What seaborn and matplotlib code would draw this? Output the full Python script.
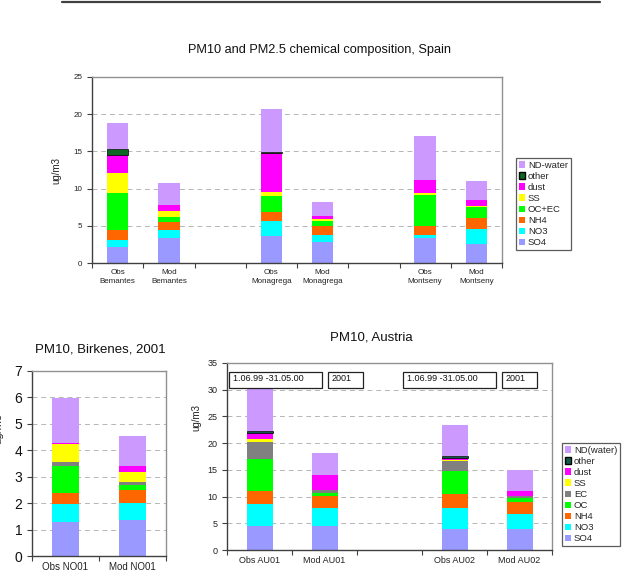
import numpy as np
import pandas as pd
import matplotlib
matplotlib.use("Agg")
import matplotlib.pyplot as plt
import seaborn as sns
from matplotlib.patches import Patch, Rectangle
from matplotlib.lines import Line2D

sns.set_style("white")
plt.rcParams['font.family'] = ['Liberation Sans', 'DejaVu Sans']

# ---------------- data ----------------
spain_cats = ["Obs\nBemantes", "Mod\nBemantes", "Obs\nMonagrega", "Mod\nMonagrega",
              "Obs\nMontseny", "Mod\nMontseny"]
spain_order = ["Obs\nBemantes", "Mod\nBemantes", "gap1", "Obs\nMonagrega", "Mod\nMonagrega",
               "gap2", "Obs\nMontseny", "Mod\nMontseny"]
spain_comps = ["SO4", "NO3", "NH4", "OC+EC", "SS", "dust", "other", "ND-water"]
spain_SO4 = [2.2, 3.4, 3.6, 2.8, 3.35, 2.55]
spain_NO3 = [0.9, 1.0, 2.1, 1.0, 0.45, 2.0]
spain_NH4 = [1.3, 1.1, 1.2, 1.2, 1.15, 1.45]
spain_OCEC = [5.0, 0.7, 2.05, 0.6, 4.25, 1.55]
spain_SS = [2.65, 0.8, 0.65, 0.25, 0.25, 0.15]
spain_dust = [2.5, 0.75, 5.15, 0.45, 1.65, 0.75]
spain_other = [0.8, 0.0, 0.12, 0.0, 0.0, 0.0]
spain_ND = [3.5, 3.05, 5.83, 1.95, 6.0, 2.55]

bir_cats = ["Obs NO01", "Mod NO01"]
bir_comps = ["SO4", "NO3", "NH4", "OC", "EC", "SS", "dust", "other", "ND(water)"]
bir_SO4 = [1.28, 1.35]
bir_NO3 = [0.70, 0.66]
bir_NH4 = [0.40, 0.49]
bir_OC = [1.03, 0.20]
bir_EC = [0.14, 0.10]
bir_SS = [0.69, 0.39]
bir_dust = [0.05, 0.22]
bir_other = [0.0, 0.0]
bir_ND = [1.68, 1.14]

aus_cats = ["Obs AU01", "Mod AU01", "Obs AU02", "Mod AU02"]
aus_order = ["Obs AU01", "Mod AU01", "gap", "Obs AU02", "Mod AU02"]
aus_comps = ["SO4", "NO3", "NH4", "OC", "EC", "SS", "dust", "other", "ND(water)"]
aus_SO4 = [4.5, 4.4, 3.9, 3.9]
aus_NO3 = [4.2, 3.5, 4.05, 2.9]
aus_NH4 = [2.4, 2.3, 2.55, 2.1]
aus_OC = [5.9, 0.55, 4.3, 0.8]
aus_EC = [3.25, 0.5, 1.8, 0.35]
aus_SS = [0.45, 0.05, 0.3, 0.05]
aus_dust = [1.2, 2.8, 0.4, 1.0]
aus_other = [0.4, 0.0, 0.25, 0.0]
aus_ND = [8.7, 4.0, 5.85, 3.8]
aus_periods = ["1.06.99 -31.05.00", "2001", "1.06.99 -31.05.00", "2001"]

# ---------------- styles ----------------
COL = {"SO4": "#9999FF", "NO3": "#00FFFF", "NH4": "#FF6600", "OC+EC": "#00FF00",
       "OC": "#00FF00", "EC": "#808080", "SS": "#FFFF00", "dust": "#FF00FF",
       "ND-water": "#CC99FF", "ND(water)": "#CC99FF"}
OTHER_SPAIN = "#0b6623"
OTHER_AUS = "#0f5a4a"


def stacked(ax, cats, order, comps, series, colors, width):
    positions = {c: order.index(c) for c in cats}
    bottoms = np.zeros(len(cats))
    for comp, vals in zip(comps, series):
        vals = np.asarray(vals, dtype=float)
        keep = vals > 0
        df = pd.DataFrame({"cat": [c for c, k in zip(cats, keep) if k],
                           "val": vals[keep]})
        bot_map = {positions[c]: b for c, b, k in zip(cats, bottoms, keep) if k}
        n0 = len(ax.patches)
        is_other = comp == "other"
        sns.barplot(data=df, x="cat", y="val", order=order, color=colors[comp],
                    saturation=1, width=width, errorbar=None, ax=ax,
                    edgecolor="black" if is_other else "none",
                    linewidth=0.5 if is_other else 0)
        for p in ax.patches[n0:]:
            xc = int(round(p.get_x() + p.get_width() / 2))
            p.set_y(bot_map[xc])
        bottoms = bottoms + vals


def frame(ax, dark="#404040", light="#909090"):
    for s in ["left", "bottom"]:
        ax.spines[s].set_color(dark)
        ax.spines[s].set_linewidth(1.0)
    for s in ["top", "right"]:
        ax.spines[s].set_color(light)
        ax.spines[s].set_linewidth(1.0)
    ax.yaxis.grid(True, color="#b5b5b5", linestyle=(0, (5, 4)), linewidth=0.7)
    ax.xaxis.grid(False)
    ax.set_axisbelow(True)


def xticks(ax, order, labels, fs):
    n = len(order)
    ax.set_xlim(-0.5, n - 0.5)
    ax.set_xticks(range(n))
    ax.set_xticklabels(labels, fontsize=fs, color="#222222")
    ax.set_xticks(np.arange(-0.5, n, 1.0), minor=True)
    ax.tick_params(axis="x", which="major", length=0, pad=4)
    ax.tick_params(axis="x", which="minor", length=3.5, width=0.8, color="#404040",
                   direction="out", bottom=True)
    ax.tick_params(axis="y", length=3.5, width=0.8, color="#404040", direction="out",
                   left=True)
    ax.set_xlabel("")


W, H = 633, 578
fig = plt.figure(figsize=(W / 100, H / 100), dpi=100)


def add_ax(l, r, t, b):
    return fig.add_axes([l / W, 1 - b / H, (r - l) / W, (b - t) / H])


def make_legend(handles, anchor):
    leg = fig.legend(handles=handles, loc="upper left", bbox_to_anchor=anchor,
                     fontsize=6.8, frameon=True, fancybox=False, borderpad=0.3,
                     labelspacing=0.22, handlelength=0.7, handleheight=0.7,
                     handletextpad=0.25, borderaxespad=0)
    leg.get_frame().set_edgecolor("#333333")
    leg.get_frame().set_linewidth(0.9)
    return leg


# top rule
fig.add_artist(Line2D([62 / W, 600 / W], [1 - 2 / H, 1 - 2 / H], color="#404040", lw=1.6))

# ---------------- Spain ----------------
ax1 = add_ax(92, 502, 77, 263)
frame(ax1)
stacked(ax1, spain_cats, spain_order, spain_comps,
        [spain_SO4, spain_NO3, spain_NH4, spain_OCEC, spain_SS, spain_dust,
         spain_other, spain_ND],
        {**COL, "other": OTHER_SPAIN}, 0.42)
xticks(ax1, spain_order, [c if not c.startswith("gap") else "" for c in spain_order], 5.8)
ax1.set_ylim(0, 25)
ax1.set_yticks(range(0, 26, 5))
ax1.tick_params(axis="y", labelsize=5.8, labelcolor="#222222")
for t in ax1.get_xticklabels():
    t.set_linespacing(1.5)
ax1.set_ylabel("ug/m3", fontsize=7, color="#222222")
ax1.yaxis.set_label_coords(-0.075, 0.5)
fig.text(320 / W, 1 - 50 / H, "PM10 and PM2.5 chemical composition, Spain",
         ha="center", va="center", fontsize=9.2, color="#111111")

h_sp = []
for comp in reversed(spain_comps):
    if comp == "other":
        h_sp.append(Patch(facecolor=OTHER_SPAIN, edgecolor="black", lw=1.0, label=comp))
    else:
        h_sp.append(Patch(facecolor=COL[comp], edgecolor="none", label=comp))
make_legend(h_sp, (516 / W, 1 - 158 / H))

# ---------------- Birkenes ----------------
ax2 = add_ax(32, 166, 371, 556)
frame(ax2)
stacked(ax2, bir_cats, bir_cats, bir_comps,
        [bir_SO4, bir_NO3, bir_NH4, bir_OC, bir_EC, bir_SS, bir_dust, bir_other, bir_ND],
        {**COL, "other": OTHER_AUS}, 0.39)
xticks(ax2, bir_cats, bir_cats, 7)
ax2.set_ylim(0, 7)
ax2.set_yticks(range(0, 8))
ax2.tick_params(axis="y", labelsize=10, labelcolor="#111111")
ax2.set_ylabel("ug/m3", fontsize=8, color="#222222")
ax2.yaxis.set_label_coords(-0.215, 0.69)
fig.text(100 / W, 1 - 349 / H, "PM10, Birkenes, 2001", ha="center", va="center",
         fontsize=9.5, color="#111111")

# ---------------- Austria ----------------
ax3 = add_ax(227, 552, 363, 550)
frame(ax3)
stacked(ax3, aus_cats, aus_order, aus_comps,
        [aus_SO4, aus_NO3, aus_NH4, aus_OC, aus_EC, aus_SS, aus_dust, aus_other, aus_ND],
        {**COL, "other": OTHER_AUS}, 0.4)
xticks(ax3, aus_order, [c if c != "gap" else "" for c in aus_order], 6.5)
ax3.set_ylim(0, 35)
ax3.set_yticks(range(0, 36, 5))
ax3.tick_params(axis="y", labelsize=6.5, labelcolor="#222222")
ax3.set_ylabel("ug/m3", fontsize=7, color="#222222")
ax3.yaxis.set_label_coords(-0.08, 0.71)
fig.text(371 / W, 1 - 338 / H, "PM10, Austria", ha="center", va="center",
         fontsize=9.5, color="#111111")

box_x = [(0.006, 0.292), (0.311, 0.418), (0.542, 0.828), (0.846, 0.954)]
for (x0, x1), txt in zip(box_x, aus_periods):
    ax3.add_patch(Rectangle((x0, 0.866), x1 - x0, 0.086, transform=ax3.transAxes,
                            facecolor="white", edgecolor="#222222", lw=0.9,
                            zorder=10, clip_on=False))
    ax3.text(x0 + 0.012, 0.918, txt, transform=ax3.transAxes, fontsize=6.5,
             ha="left", va="center", zorder=11, color="#111111")

h_au = []
for comp in reversed(aus_comps):
    if comp == "other":
        h_au.append(Patch(facecolor=OTHER_AUS, edgecolor="black", lw=1.0, label=comp))
    else:
        h_au.append(Patch(facecolor=COL[comp], edgecolor="none", label=comp))
make_legend(h_au, (562 / W, 1 - 443 / H))

fig.savefig("out.png", dpi=100, facecolor="white")
